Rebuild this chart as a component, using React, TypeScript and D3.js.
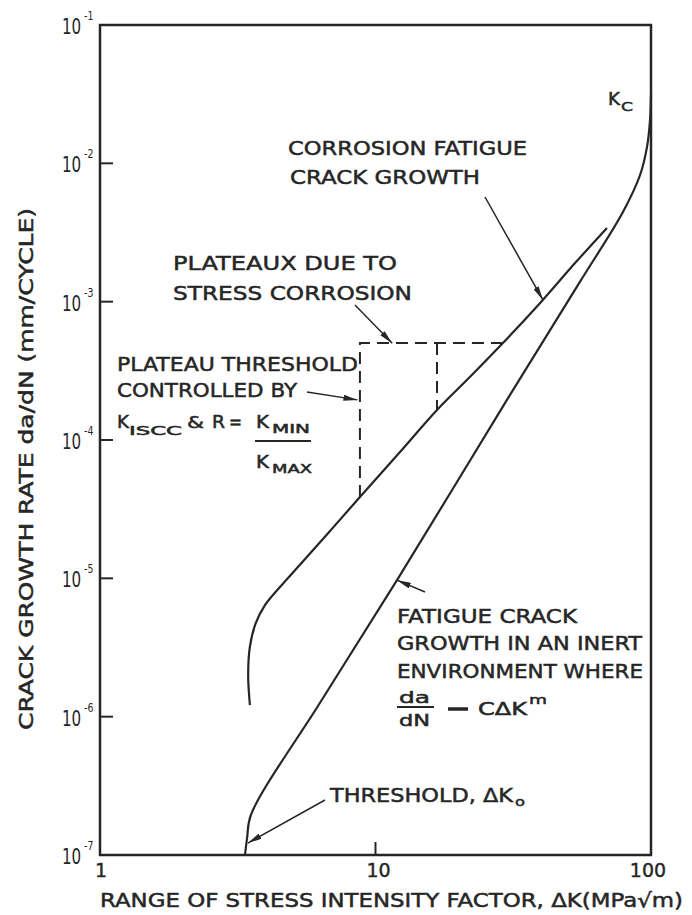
import React from "react";
import * as d3 from "d3";

// ---- data ----
const xTicks = [1, 10, 100];
const xTickLabels = ["1", "10", "100"];
const yTicks = [1e-1, 1e-2, 1e-3, 1e-4, 1e-5, 1e-6, 1e-7];
const yTickExponents = ["-1", "-2", "-3", "-4", "-5", "-6", "-7"];

// Fatigue crack growth in an inert environment [ΔK, da/dN]
const inertCurve: [number, number][] = [
  [3.36, 1.0e-7],
  [3.42, 1.33e-7],
  [3.53, 1.95e-7],
  [6.29, 1.26e-6],
  [11.97, 9.7e-6],
  [30.0, 1.95e-4],
  [55.2, 1.39e-3],
  [79.1, 4.45e-3],
  [91.2, 8.2e-3],
  [96.7, 1.31e-2],
  [99.2, 2.06e-2],
  [100, 3.12e-2],
];

// Corrosion fatigue crack growth [ΔK, da/dN]
const corrosionCurve: [number, number][] = [
  [3.5, 1.21e-6],
  [3.45, 2.0e-6],
  [3.5, 3.2e-6],
  [3.67, 4.7e-6],
  [3.97, 6.4e-6],
  [4.5, 8.65e-6],
  [5.5, 1.35e-5],
  [6.84, 2.2e-5],
  [8.78, 3.87e-5],
  [12.27, 8.19e-5],
  [16.72, 1.65e-4],
  [22.0, 2.85e-4],
  [29.0, 5.02e-4],
  [40.5, 1.03e-3],
  [53.0, 1.9e-3],
  [69.2, 3.41e-3],
];

// Stress-corrosion plateaux (dashed)
const plateauRate = 5.02e-4;
const plateauLeftK = 8.78;
const plateauLeftLowRate = 3.87e-5;
const plateauMidK = 16.72;
const plateauMidLowRate = 1.65e-4;
const plateauRightK = 29.0;

// arrow targets [ΔK, da/dN]
const arrowCorrosionTip: [number, number] = [40.5, 1.03e-3];
const arrowPlateauxTip: [number, number] = [11.5, 5.0e-4];
const arrowControlledTip: [number, number] = [8.6, 1.95e-4];
const arrowInertTip: [number, number] = [11.97, 9.7e-6];
const arrowThresholdTip: [number, number] = [3.44, 1.22e-7];

const INK = "#262626";
const FONT = "'DejaVu Sans', 'Liberation Sans', sans-serif";

export default function App() {
  const W = 692;
  const H = 915;
  const x = d3.scaleLog().domain([1, 100]).range([100, 651]);
  const y = d3.scaleLog().domain([1e-7, 1e-1]).range([855, 25]);

  const line = d3
    .line<[number, number]>()
    .x((d) => x(d[0]))
    .y((d) => y(d[1]))
    .curve(d3.curveCatmullRom.alpha(0.5));

  const x0 = x.range()[0];
  const x1 = x.range()[1];
  const yTop = y.range()[1];
  const yBot = y.range()[0];

  const lbl = (
    t: string,
    px: number,
    py: number,
    len: number,
    size = 20,
    extra: any = {}
  ) => (
    <text
      x={px}
      y={py}
      fontSize={size}
      textLength={len}
      lengthAdjust="spacingAndGlyphs"
      fill={INK}
      stroke={INK}
      strokeWidth={0.5}
      fontFamily={FONT}
      {...extra}
    >
      {t}
    </text>
  );

  const arrow = (tail: [number, number], tip: [number, number], key: string) => (
    <line
      key={key}
      x1={tail[0]}
      y1={tail[1]}
      x2={x(tip[0])}
      y2={y(tip[1])}
      stroke={INK}
      strokeWidth={1.5}
      markerEnd="url(#ah)"
    />
  );

  return (
    <svg
      width={W}
      height={H}
      style={{ position: "absolute", left: 0, top: 0, background: "#fff" }}
    >
      <defs>
        <marker
          id="ah"
          viewBox="0 0 14 6"
          refX={14}
          refY={3}
          markerWidth={14}
          markerHeight={6}
          markerUnits="userSpaceOnUse"
          orient="auto"
        >
          <path d="M0,0 L14,3 L0,6 Z" fill={INK} />
        </marker>
      </defs>
      <rect x={0} y={0} width={W} height={H} fill="#fff" />

      {/* frame */}
      <path
        d={`M${x0},${yTop} V${yBot} H${x1} V${yTop} Z`}
        fill="none"
        stroke={INK}
        strokeWidth={2.5}
      />

      {/* y ticks */}
      {yTicks.map((t, i) => (
        <g key={"yt" + i}>
          <line x1={x0} x2={x0 + 13} y1={y(t)} y2={y(t)} stroke={INK} strokeWidth={2} />
          <g transform={`translate(62,${y(t) + 9}) scale(0.72,1)`}>
            <text x={0} y={0} fontSize={21} fill={INK} fontFamily={FONT}>
              <tspan>10</tspan>
              <tspan dx={4} dy={-14} fontSize={13}>
                {yTickExponents[i]}
              </tspan>
            </text>
          </g>
        </g>
      ))}

      {/* x ticks */}
      <line x1={x(10)} x2={x(10)} y1={yBot} y2={yBot - 13} stroke={INK} strokeWidth={2} />
      {xTicks.map((t, i) => (
        <text
          key={"xt" + i}
          x={x(t) + (i === 0 ? 1 : i === 1 ? 3 : -3)}
          y={877}
          fontSize={19}
          textAnchor="middle"
          fill={INK}
          stroke={INK}
          strokeWidth={0.4}
          fontFamily={FONT}
        >
          {xTickLabels[i]}
        </text>
      ))}

      {/* axis titles */}
      {lbl("RANGE OF STRESS INTENSITY FACTOR, ΔK(MPa√m)", 100, 907, 583, 20)}
      <text
        transform={`translate(33,469) rotate(-90)`}
        fontSize={20}
        textAnchor="middle"
        textLength={522}
        lengthAdjust="spacingAndGlyphs"
        fill={INK}
        stroke={INK}
        strokeWidth={0.5}
        fontFamily={FONT}
      >
        CRACK GROWTH RATE da/dN (mm/CYCLE)
      </text>

      {/* curves */}
      <path d={line(inertCurve) || ""} fill="none" stroke={INK} strokeWidth={2.2} />
      <path d={line(corrosionCurve) || ""} fill="none" stroke={INK} strokeWidth={2.2} />

      {/* plateaux dashed */}
      <path
        d={`M${x(plateauLeftK)},${y(plateauLeftLowRate)} V${y(plateauRate)} H${x(plateauRightK)}`}
        fill="none"
        stroke={INK}
        strokeWidth={2}
        strokeDasharray="12 7"
      />
      <path
        d={`M${x(plateauMidK)},${y(plateauRate)} V${y(plateauMidLowRate)}`}
        fill="none"
        stroke={INK}
        strokeWidth={2}
        strokeDasharray="12 7"
      />

      {/* annotations */}
      {lbl("K", 608, 105, 12, 17)}
      {lbl("C", 621, 111, 12, 13)}

      {lbl("CORROSION FATIGUE", 288, 155, 239)}
      {lbl("CRACK GROWTH", 290, 184, 190)}
      {arrow([485, 197], arrowCorrosionTip, "a1")}

      {lbl("PLATEAUX DUE TO", 173, 270, 224)}
      {lbl("STRESS CORROSION", 173, 300, 239)}
      {arrow([355, 305], arrowPlateauxTip, "a2")}

      {lbl("PLATEAU THRESHOLD", 117, 371, 241)}
      {lbl("CONTROLLED BY", 117, 397, 180)}
      {arrow([307, 392], arrowControlledTip, "a3")}

      {lbl("K", 117, 428, 12, 17)}
      {lbl("ISCC", 129, 435, 53, 12)}
      {lbl("&", 187, 428, 17, 16)}
      {lbl("R", 212, 428, 13, 17)}
      {lbl("=", 229, 428, 13, 17)}
      {lbl("K", 256, 428, 13, 17)}
      {lbl("MIN", 272, 433, 38, 12)}
      <line x1={255} x2={311} y1={441} y2={441} stroke={INK} strokeWidth={2} />
      {lbl("K", 256, 468, 13, 17)}
      {lbl("MAX", 272, 473, 40, 12)}

      {arrow([425, 592], arrowInertTip, "a4")}
      {lbl("FATIGUE CRACK", 397, 623, 180)}
      {lbl("GROWTH IN AN INERT", 397, 650, 245)}
      {lbl("ENVIRONMENT WHERE", 397, 678, 246)}
      {lbl("da", 399, 703, 31, 16)}
      <line x1={397} x2={434} y1={707} y2={707} stroke={INK} strokeWidth={2} />
      {lbl("dN", 399, 726, 31, 16)}
      <line x1={448} x2={468} y1={709} y2={709} stroke={INK} strokeWidth={3.5} />
      {lbl("CΔK", 478, 715, 49, 17)}
      {lbl("m", 529, 704, 18, 13)}

      {lbl("THRESHOLD, ΔK", 330, 802, 183)}
      {lbl("o", 515, 806, 10, 13)}
      {arrow([325, 800], arrowThresholdTip, "a5")}
    </svg>
  );
}
